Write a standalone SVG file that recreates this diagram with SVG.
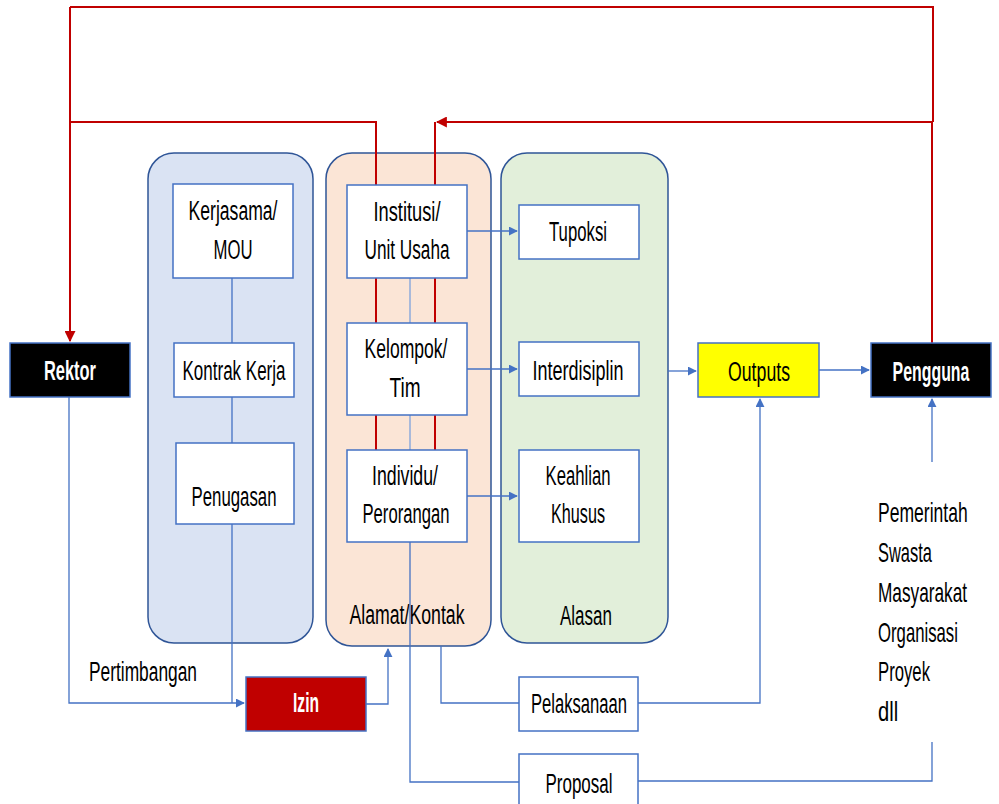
<svg xmlns="http://www.w3.org/2000/svg" width="999" height="804" viewBox="0 0 999 804">
<defs>
<marker id="ab" viewBox="0 0 10 10" refX="9" refY="5" markerWidth="9" markerHeight="9" markerUnits="userSpaceOnUse" orient="auto"><path d="M0,0 L10,5 L0,10 z" fill="#4472C4"/></marker>
<marker id="ar" viewBox="0 0 10 10" refX="9" refY="5" markerWidth="11" markerHeight="11" markerUnits="userSpaceOnUse" orient="auto"><path d="M0,0 L10,5 L0,10 z" fill="#C00000"/></marker>
</defs>
<style>
.panel{stroke:#2F5597;stroke-width:1.5}
.box{fill:#fff;stroke:#4472C4;stroke-width:1.5}
text{font-family:"Liberation Sans",Arial,sans-serif;font-size:27px;fill:#000}
.w{fill:#fff;font-weight:bold}
.c{fill:none;stroke:#4472C4;stroke-width:1.3}
.cl{fill:none;stroke:#8FAADC;stroke-width:1.5}
.r{fill:none;stroke:#C00000;stroke-width:2}
</style>
<rect width="999" height="804" fill="#fff"/>
<g id="panel-blue"><rect class="panel" x="148" y="153" width="165" height="490" rx="26" fill="#DAE3F3"/></g>
<g id="panel-peach"><rect class="panel" x="326" y="153" width="165" height="493" rx="26" fill="#FBE5D6"/><text x="407" y="624" text-anchor="middle" textLength="115" lengthAdjust="spacingAndGlyphs">Alamat/Kontak</text></g>
<g id="panel-green"><rect class="panel" x="501" y="153" width="167" height="490" rx="26" fill="#E2EFDA"/><text x="586" y="625" text-anchor="middle" textLength="52" lengthAdjust="spacingAndGlyphs">Alasan</text></g>
<g id="connectors">
<path class="r" d="M70,7 H933 V122"/>
<path class="r" d="M70,7 V341" marker-end="url(#ar)"/>
<path class="r" d="M69,122 H376 V185"/>
<path class="r" d="M932,343 V122 H437" marker-end="url(#ar)"/>
<path class="r" d="M435,122 V185"/>
<path class="r" d="M376,278 V323 M435,278 V323 M376,415 V450 M435,415 V450"/>
<path class="c" d="M232,278 V343 M232,397 V443 M232,524 V703"/>
<path class="c" d="M69,397 V703 H244" marker-end="url(#ab)"/>
<path class="c" d="M366,704 H388 V649" marker-end="url(#ab)"/>
<path class="c" d="M467,231 H517" marker-end="url(#ab)"/>
<path class="c" d="M467,369 H517" marker-end="url(#ab)"/>
<path class="c" d="M467,496 H517" marker-end="url(#ab)"/>
<path class="c" d="M668,371 H696" marker-end="url(#ab)"/>
<path class="c" d="M819,370 H869" marker-end="url(#ab)"/>
<path class="cl" d="M410,278 V323 M410,415 V450"/>
<path class="c" d="M410,542 V782 H519"/>
<path class="c" d="M638,781 H932 V742"/>
<path class="c" d="M932,462 V399" marker-end="url(#ab)"/>
<path class="c" d="M441,646 V703 H519"/>
<path class="c" d="M638,703 H760 V399" marker-end="url(#ab)"/>
</g>
<g id="rektor"><rect x="10" y="343" width="120" height="54" fill="#000" stroke="#4472C4" stroke-width="1.5"/><text class="w" x="70" y="380" text-anchor="middle" textLength="52" lengthAdjust="spacingAndGlyphs">Rektor</text></g>
<g id="kerjasama"><rect class="box" x="173" y="184" width="120" height="94"/><text x="233" y="220" text-anchor="middle" textLength="89" lengthAdjust="spacingAndGlyphs">Kerjasama/</text><text x="233" y="259" text-anchor="middle" textLength="39" lengthAdjust="spacingAndGlyphs">MOU</text></g>
<g id="kontrak"><rect class="box" x="174" y="343" width="120" height="54"/><text x="234" y="380" text-anchor="middle" textLength="103" lengthAdjust="spacingAndGlyphs">Kontrak Kerja</text></g>
<g id="penugasan"><rect class="box" x="176" y="443" width="118" height="81"/><text x="234" y="506" text-anchor="middle" textLength="85" lengthAdjust="spacingAndGlyphs">Penugasan</text></g>
<g id="institusi"><rect class="box" x="347" y="185" width="120" height="93"/><text x="407" y="221" text-anchor="middle" textLength="67" lengthAdjust="spacingAndGlyphs">Institusi/</text><text x="407" y="259" text-anchor="middle" textLength="85" lengthAdjust="spacingAndGlyphs">Unit Usaha</text></g>
<g id="kelompok"><rect class="box" x="347" y="323" width="120" height="92"/><text x="406" y="358" text-anchor="middle" textLength="83" lengthAdjust="spacingAndGlyphs">Kelompok/</text><text x="405" y="397" text-anchor="middle" textLength="31" lengthAdjust="spacingAndGlyphs">Tim</text></g>
<g id="individu"><rect class="box" x="347" y="450" width="120" height="92"/><text x="405" y="485" text-anchor="middle" textLength="66" lengthAdjust="spacingAndGlyphs">Individu/</text><text x="406" y="523" text-anchor="middle" textLength="87" lengthAdjust="spacingAndGlyphs">Perorangan</text></g>
<g id="tupoksi"><rect class="box" x="519" y="205" width="120" height="54"/><text x="578" y="241" text-anchor="middle" textLength="58" lengthAdjust="spacingAndGlyphs">Tupoksi</text></g>
<g id="interdisiplin"><rect class="box" x="519" y="342" width="120" height="54"/><text x="578" y="380" text-anchor="middle" textLength="91" lengthAdjust="spacingAndGlyphs">Interdisiplin</text></g>
<g id="keahlian"><rect class="box" x="519" y="450" width="120" height="92"/><text x="578" y="485" text-anchor="middle" textLength="65" lengthAdjust="spacingAndGlyphs">Keahlian</text><text x="578" y="523" text-anchor="middle" textLength="54" lengthAdjust="spacingAndGlyphs">Khusus</text></g>
<g id="outputs"><rect x="698" y="343" width="121" height="54" fill="#FFFF00" stroke="#4472C4" stroke-width="1.5"/><text x="759" y="381" text-anchor="middle" textLength="62" lengthAdjust="spacingAndGlyphs">Outputs</text></g>
<g id="pengguna"><rect x="871" y="343" width="120" height="54" fill="#000" stroke="#4472C4" stroke-width="1.5"/><g transform="translate(931,381) scale(0.6,1)"><text class="w" x="0" y="0" text-anchor="middle" textLength="128" lengthAdjust="spacingAndGlyphs">Pengguna</text></g></g>
<g id="izin"><rect x="246" y="677" width="120" height="54" fill="#C00000" stroke="#4472C4" stroke-width="1.5"/><text class="w" x="306" y="712" text-anchor="middle" textLength="26" lengthAdjust="spacingAndGlyphs">Izin</text></g>
<g id="pelaksanaan"><rect class="box" x="519" y="677" width="119" height="54"/><text x="579" y="713" text-anchor="middle" textLength="96" lengthAdjust="spacingAndGlyphs">Pelaksanaan</text></g>
<g id="proposal"><rect class="box" x="519" y="754" width="119" height="60"/><text x="579" y="793" text-anchor="middle" textLength="67" lengthAdjust="spacingAndGlyphs">Proposal</text></g>
<g id="pertimbangan"><text x="89" y="681" textLength="108" lengthAdjust="spacingAndGlyphs">Pertimbangan</text></g>
<g id="pengguna-list" transform="translate(878,0) scale(0.65,1)">
<text x="0" y="522" textLength="138" lengthAdjust="spacingAndGlyphs">Pemerintah</text>
<text x="0" y="562" textLength="83" lengthAdjust="spacingAndGlyphs">Swasta</text>
<text x="0" y="602" textLength="137" lengthAdjust="spacingAndGlyphs">Masyarakat</text>
<text x="0" y="642" textLength="123" lengthAdjust="spacingAndGlyphs">Organisasi</text>
<text x="0" y="681" textLength="80" lengthAdjust="spacingAndGlyphs">Proyek</text>
<text x="0" y="721" textLength="31" lengthAdjust="spacingAndGlyphs">dll</text>
</g>
</svg>
